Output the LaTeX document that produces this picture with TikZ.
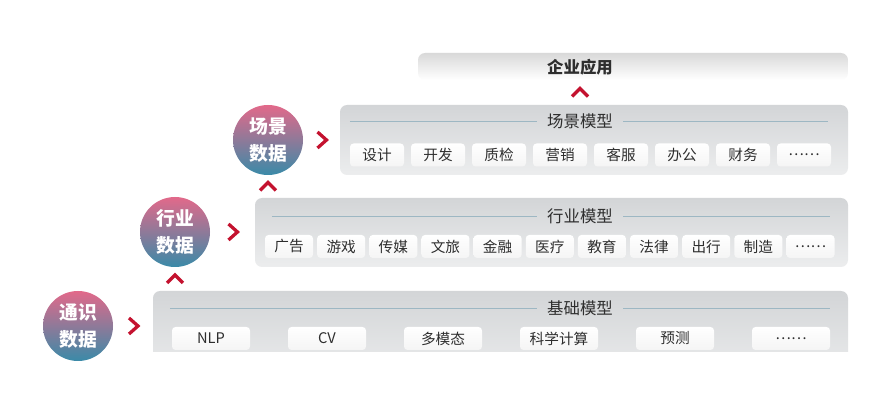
\documentclass[tikz,border=0pt]{standalone}
\usepackage{fontspec}
\setmainfont{Noto Sans CJK SC}
\usetikzlibrary{calc}
\definecolor{chevred}{HTML}{C4122F}
\definecolor{panelgray}{HTML}{D3D5D7}
\definecolor{panellight}{HTML}{ECEDEE}
\definecolor{rulecol}{HTML}{9DB7C3}
\definecolor{circtop}{HTML}{E2698A}
\definecolor{circbot}{HTML}{3A8AA8}
\definecolor{txtgray}{HTML}{2E2E2E}
\tikzset{
  panel/.style={rounded corners=6pt, top color=panelgray, bottom color=panellight,
    minimum height={#1*0.03cm}, inner sep=0pt},
  appbar/.style={rounded corners=6pt, top color=gray!30, bottom color=white,
    minimum width={430*0.03cm}, minimum height={27*0.03cm}},
  chip/.style={rounded corners=3pt, top color=white, bottom color=gray!8,
    minimum width={#1*0.03cm}, minimum height={23*0.03cm}, inner sep=0pt,
    text=txtgray, font=\fontsize{12.5}{14}\selectfont},
  paneltitle/.style={text=txtgray, font=\fontsize{14}{16}\selectfont, inner sep=2pt},
  datacirc/.style={circle, minimum size={70*0.03cm}, top color=circtop, bottom color=circbot,
    text=white, align=center, font=\fontsize{16}{23}\selectfont\bfseries, inner sep=0pt},
  rule/.style={rulecol, line width=0.6pt},
  chev/.style={chevred, line width=2.8pt, line join=miter},
}
\begin{document}
\begin{tikzpicture}[x=0.03cm,y=-0.03cm]
  \useasboundingbox[fill=white] (0,0) rectangle (888,403);

  % top bar
  \node[appbar] (app) at (633,66.5) {};
  \node[paneltitle, font=\fontsize{14}{16}\selectfont\bfseries] (apptitle) at (580,67) {企业应用};

  % scene panel
  \node[panel=70, minimum width={508*0.03cm}] (scene) at (594,140) {};
  \node[paneltitle] (scenetitle) at (580,121) {场景模型};
  \draw[rule] ($(scene.west |- scenetitle)+(10,0)$) -- ($(scenetitle.west)+(-8,0)$);
  \draw[rule] ($(scenetitle.east)+(8,0)$) -- ($(scene.east |- scenetitle)+(-20,0)$);
  \foreach \t [count=\i from 0] in {设计,开发,质检,营销,客服,办公,财务,……}
    \node[chip=54] (s\i) at (377+61*\i,155) {\t};

  % industry panel
  \node[panel=69, minimum width={593*0.03cm}] (ind) at (551.5,232.5) {};
  \node[paneltitle] (indtitle) at (580,216) {行业模型};
  \draw[rule] ($(ind.west |- indtitle)+(17,0)$) -- ($(indtitle.west)+(-8,0)$);
  \draw[rule] ($(indtitle.east)+(8,0)$) -- ($(ind.east |- indtitle)+(-18,0)$);
  \foreach \t [count=\i from 0] in {广告,游戏,传媒,文旅,金融,医疗,教育,法律,出行,制造,……}
    \node[chip=48] (n\i) at (289+52.15*\i,246.5) {\t};

  % base panel (cut at the bottom)
  \begin{scope}
    \clip (0,0) rectangle (888,352);
    \node[panel=90, minimum width={695*0.03cm}] (base) at (500.5,336) {};
  \end{scope}
  \node[paneltitle] (basetitle) at (580,308) {基础模型};
  \draw[rule] ($(base.west |- basetitle)+(17,0)$) -- ($(basetitle.west)+(-8,0)$);
  \draw[rule] ($(basetitle.east)+(8,0)$) -- ($(base.east |- basetitle)+(-18,0)$);
  \foreach \t [count=\i from 0] in {NLP,CV,多模态,科学计算,预测,……}
    \node[chip=78] (b\i) at (211+116*\i,338.5) {\t};

  % data circles
  \node[datacirc] (general) at (78,326) {通识\\数据};
  \node[datacirc] (industry) at (175,232) {行业\\数据};
  \node[datacirc] (scenario) at (268,140) {场景\\数据};

  % chevrons
  \draw[chev] ($(general.east)!0.5!(base.west |- general)$) ++(-4,-8) -- ++(9,8) -- ++(-9,8);
  \draw[chev] ($(industry.east)!0.5!(ind.west |- industry)$) ++(-4,-8) -- ++(9,8) -- ++(-9,8);
  \draw[chev] ($(scenario.east)!0.5!(scene.west |- scenario)$) ++(-4,-8) -- ++(9,8) -- ++(-9,8);
  \draw[chev] ($(industry.south)!0.5!(industry.south |- base.north)$) ++(-8,4) -- ++(8,-8) -- ++(8,8);
  \draw[chev] ($(scenario.south)!0.5!(scenario.south |- ind.north)$) ++(-8,4) -- ++(8,-8) -- ++(8,8);
  \draw[chev] ($(apptitle |- app.south)!0.5!(apptitle |- scene.north)$) ++(-8,4) -- ++(8,-8) -- ++(8,8);
\end{tikzpicture}
\end{document}
